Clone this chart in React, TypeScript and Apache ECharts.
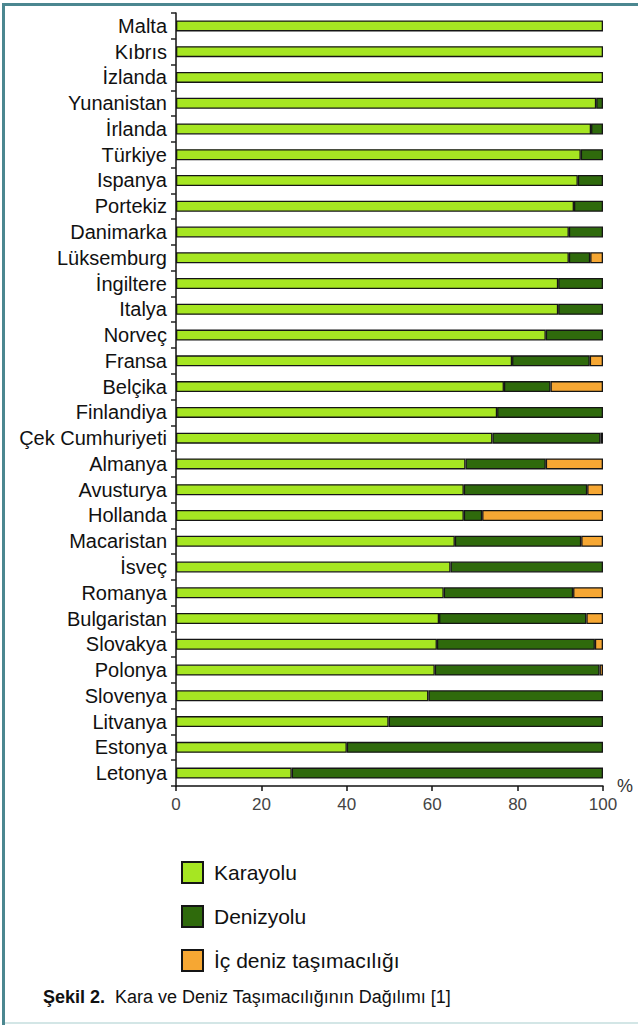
import React, { useEffect, useRef } from "react";
import * as echarts from "echarts";

const countries = [
  "Malta", "Kıbrıs", "İzlanda", "Yunanistan", "İrlanda", "Türkiye", "Ispanya", "Portekiz",
  "Danimarka", "Lüksemburg", "İngiltere", "Italya", "Norveç", "Fransa", "Belçika", "Finlandiya",
  "Çek Cumhuriyeti", "Almanya", "Avusturya", "Hollanda", "Macaristan", "İsveç", "Romanya",
  "Bulgaristan", "Slovakya", "Polonya", "Slovenya", "Litvanya", "Estonya", "Letonya",
];

const karayolu = [
  100, 100, 100, 98.4, 97.2, 94.8, 94.1, 93.2,
  92.0, 92.0, 89.5, 89.5, 86.6, 78.7, 76.8, 75.2,
  74.1, 67.8, 67.4, 67.4, 65.3, 64.3, 62.7,
  61.6, 61.1, 60.6, 59.1, 49.8, 40.0, 27.1,
];

const denizyolu = [
  0, 0, 0, 1.6, 2.8, 5.2, 5.9, 6.8,
  8.0, 5.0, 10.5, 10.5, 13.4, 18.2, 10.9, 24.8,
  25.3, 18.8, 28.9, 4.3, 29.6, 35.7, 30.3,
  34.5, 37.0, 38.6, 40.9, 50.2, 60.0, 72.9,
];

const icDeniz = [
  0, 0, 0, 0, 0, 0, 0, 0,
  0, 3.0, 0, 0, 0, 3.1, 12.3, 0,
  0.6, 13.4, 3.7, 28.3, 5.1, 0, 7.0,
  3.9, 1.9, 0.8, 0, 0, 0, 0,
];

const xTicks = { min: 0, max: 100, interval: 20 };

const seriesNames = ["Karayolu", "Denizyolu", "İç deniz taşımacılığı"];
const seriesColors = ["#a6e622", "#2f6a0c", "#f6a733"];

const FONT = "'Liberation Sans', Arial, sans-serif";

export default function App() {
  const ref = useRef<HTMLDivElement>(null);

  useEffect(() => {
    document.body.style.margin = "0";
    const chart = echarts.init(ref.current!, null, { renderer: "svg" });
    const toData = (arr: number[]) => arr.map((v) => (v === 0 ? "-" : v));
    const datasets = [karayolu, denizyolu, icDeniz];

    chart.setOption({
      animation: false,
      backgroundColor: "#ffffff",
      grid: { left: 176, right: 35, top: 13, height: 773, containLabel: false },
      xAxis: {
        type: "value",
        min: xTicks.min,
        max: xTicks.max,
        interval: xTicks.interval,
        name: "%",
        nameLocation: "end",
        nameGap: 14,
        nameTextStyle: { fontFamily: FONT, fontSize: 18, color: "#333", verticalAlign: "middle", padding: [0, 0, 8, 0] },
        axisLine: { show: true, lineStyle: { color: "#111", width: 1.5 } },
        axisTick: { show: true, length: 5, lineStyle: { color: "#111", width: 1.5 } },
        axisLabel: { fontFamily: FONT, fontSize: 17, color: "#444", margin: 10 },
        splitLine: { show: false },
      },
      yAxis: {
        type: "category",
        inverse: true,
        data: countries,
        axisLine: { show: true, lineStyle: { color: "#111", width: 1.5 } },
        axisTick: { show: true, length: 5, lineStyle: { color: "#222", width: 1.5 } },
        axisLabel: { fontFamily: FONT, fontSize: 20, color: "#111", margin: 9, interval: 0 },
      },
      legend: {
        orient: "vertical",
        left: 176,
        top: 856,
        itemWidth: 21,
        itemHeight: 21,
        itemGap: 21,
        icon: "rect",
        data: seriesNames,
        textStyle: { fontFamily: FONT, fontSize: 21, color: "#111", padding: [0, 0, 0, 6] },
      },
      graphic: [
        { type: "rect", shape: { x: 2, y: 3, width: 636, height: 3 }, style: { fill: "#4b8790" }, z: 10 },
        { type: "rect", shape: { x: 2, y: 3, width: 3, height: 1022 }, style: { fill: "#4b8790" }, z: 10 },
        { type: "rect", shape: { x: 5, y: 1022, width: 633, height: 2 }, style: { fill: "#d3e6e6" }, z: 10 },
        {
          type: "text",
          x: 43,
          y: 997,
          style: {
            text: "{b|Şekil 2.}  Kara ve Deniz Taşımacılığının Dağılımı [1]",
            fontFamily: FONT,
            fontSize: 18,
            fill: "#111",
            verticalAlign: "middle",
            rich: { b: { fontFamily: FONT, fontSize: 18, fontWeight: "bold", fill: "#111" } },
          },
        },
      ],
      series: datasets.map((arr, i) => ({
        name: seriesNames[i],
        type: "bar",
        stack: "total",
        barWidth: 11,
        data: toData(arr),
        itemStyle: { color: seriesColors[i], borderColor: "#151515", borderWidth: 1.3 },
      })),
    });
    return () => chart.dispose();
  }, []);

  return <div ref={ref} style={{ position: "absolute", left: 0, top: 0, width: 638, height: 1025 }} />;
}
